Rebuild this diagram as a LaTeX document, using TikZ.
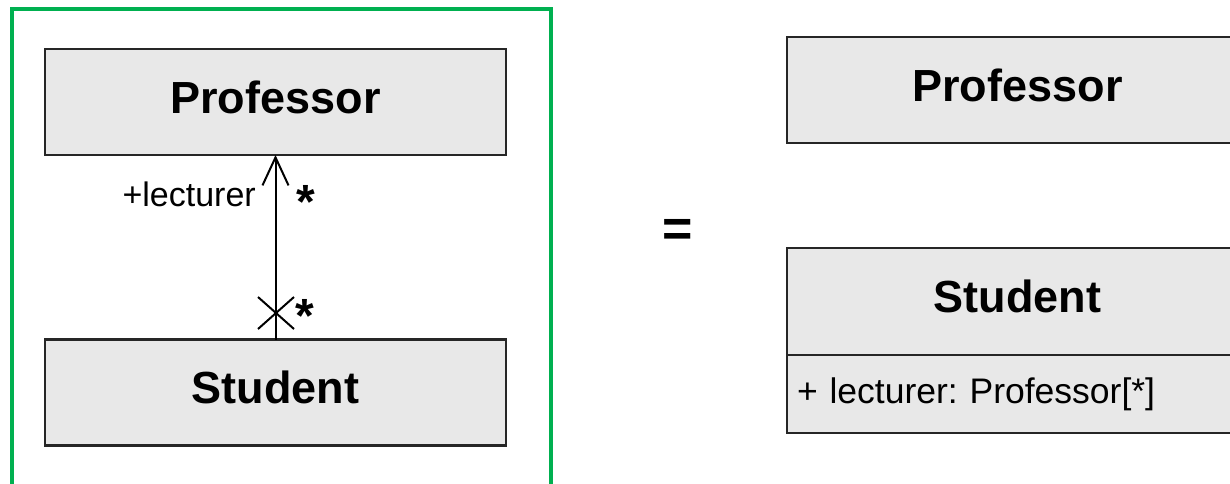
\documentclass[tikz,border=0pt]{standalone}
\usepackage{fontspec}
\setmainfont{Liberation Sans}
\usetikzlibrary{arrows.meta,positioning,shapes.misc}

\begin{document}
\begin{tikzpicture}[x=1pt,y=-1pt,
  classbox/.style={draw=black!85,line width=2.5pt,fill=black!9,
    minimum width=461pt,minimum height=106pt,inner sep=0pt,outer sep=0pt,
    text depth=10pt,font=\fontsize{45}{50}\selectfont\bfseries},
  attrbox/.style={draw=black!85,line width=2.5pt,fill=black!9,
    text width=441pt,inner xsep=10pt,inner ysep=0pt,minimum height=78pt,
    outer sep=0pt,align=left,font=\fontsize{35.5}{40}\selectfont},
  lbl/.style={inner sep=0pt,font=\fontsize{34}{40}\selectfont},
  mult/.style={inner sep=0pt,font=\fontsize{48}{52}\selectfont\bfseries},
  assoc/.style={line width=2pt,-{Straight Barb[length=28pt,width=26pt,line width=2pt]}},
  navx/.style={draw,cross out,line width=2pt,minimum width=34pt,minimum height=30pt,inner sep=0pt}]
\useasboundingbox (0,0) rectangle (1230,483);
% left frame
\draw[line width=4pt,draw={rgb,255:red,0;green,176;blue,80}] (12,500)--(12,9)--(551,9)--(551,500);
% classes with association
\node[classbox] (profL) at (275.5,102) {Professor};
\node[classbox] (studL) at (275.5,392.5) {Student};
\node[navx] (nav) at (276,313) {};
\draw[assoc] (studL.north) -- (profL.south);
\node[lbl,anchor=base east] (role) at (256,206) {+lecturer};
\node[mult] (mTop) at (306,202) {*};
\node[mult] (mBot) at (305,316) {*};
% equals
\node[font=\fontsize{52}{56}\selectfont\bfseries] (eq) at (677.5,232.5) {=};
% classes with attribute
\node[classbox] (profR) at (1017.5,90) {Professor};
\node[classbox,minimum height=107pt] (studR) at (1017.5,301.5) {Student};
\node[attrbox,below=0pt of studR] (studRattr) {+ lecturer:\ Professor[*]};
\end{tikzpicture}
\end{document}
